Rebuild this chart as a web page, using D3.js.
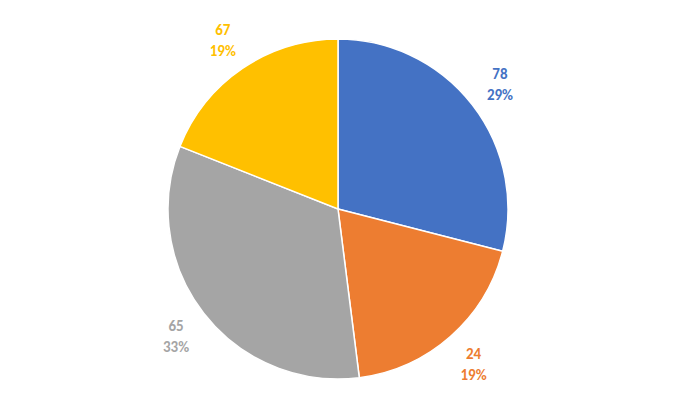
<!DOCTYPE html>
<html>
<head>
<meta charset="utf-8">
<script src="https://cdn.jsdelivr.net/npm/d3@7"></script>
<style>
  body { margin: 0; background: #fff; }
  text { font-family: Calibri, "Liberation Sans", "Open Sans", sans-serif; font-weight: bold; font-size: 15px; }
</style>
</head>
<body>
<svg id="chart" width="675" height="419"></svg>
<script>
// slice shares (%) and the value labels shown on the chart
var categories = ['A', 'B', 'C', 'D'];
var shares = [29, 19, 33, 19];
var values = [78, 24, 65, 67];
var colors = ['#4472C4', '#ED7D31', '#A5A5A5', '#FFC000'];

var cx = 338, cy = 209, radius = 170;

var svg = d3.select('#chart');
var g = svg.append('g').attr('transform', 'translate(' + cx + ',' + cy + ')');

var pie = d3.pie().sort(null).value(function (d) { return d; });
var arcs = pie(shares);

var arc = d3.arc().innerRadius(0).outerRadius(radius);
var labelArc = d3.arc().innerRadius(205).outerRadius(205);

g.selectAll('path')
    .data(arcs)
    .enter().append('path')
    .attr('d', arc)
    .attr('fill', function (d, i) { return colors[i]; })
    .attr('stroke', '#fff')
    .attr('stroke-width', 1.5);

var labels = g.selectAll('text.lbl')
    .data(arcs)
    .enter().append('text')
    .attr('class', 'lbl')
    .attr('text-anchor', 'middle')
    .attr('fill', function (d, i) { return colors[i]; })
    .attr('transform', function (d) {
        var c = labelArc.centroid(d);
        return 'translate(' + c[0] + ',' + c[1] + ')';
    });

labels.append('tspan').attr('x', 0).attr('y', -4)
    .text(function (d, i) { return values[i]; });
labels.append('tspan').attr('x', 0).attr('y', 17)
    .text(function (d, i) { return shares[i] + '%'; });
</script>
</body>
</html>
